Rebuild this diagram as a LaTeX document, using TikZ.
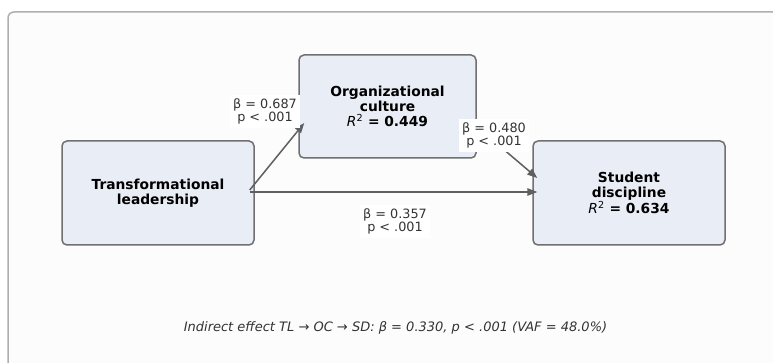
\documentclass[tikz,border=0pt]{standalone}
\usepackage{fontspec}
\setmainfont{DejaVu Sans}
\usetikzlibrary{arrows.meta}
\definecolor{boxfill}{RGB}{233,237,245}
\definecolor{boxdraw}{RGB}{112,112,112}
\definecolor{arrowc}{RGB}{95,95,95}
\definecolor{labtext}{RGB}{51,51,51}
\definecolor{framec}{RGB}{175,175,175}
\definecolor{bgc}{RGB}{252,252,252}
\newcommand{\rtwo}{{\mdseries\itshape R}\textsuperscript{\mdseries 2}}
\begin{document}
\begin{tikzpicture}[x=1pt,y=-1pt,
  varbox/.style={draw=boxdraw, line width=1.5pt, fill=boxfill, rounded corners=5pt,
    minimum width=192pt, minimum height=104pt, align=center,
    font=\fontsize{13.8}{15}\selectfont\bfseries, text=black, inner sep=0pt},
  coef/.style={fill=white, align=center, font=\fontsize{12.8}{13.8}\selectfont,
    text=labtext, inner sep=3pt},
  arr/.style={draw=arrowc, line width=1.5pt, -{Triangle[length=10pt,width=7.5pt]}}]
\useasboundingbox (0,0) rectangle (773,363);
\clip (0,0) rectangle (773,363);
\fill[white] (0,0) rectangle (773,363);
\draw[framec, fill=bgc, line width=1.5pt, rounded corners=6pt] (8,12) rectangle (800,400);

\node[varbox] (tl) at (158,193) {Transformational\\leadership};
\node[varbox, minimum width=177pt, minimum height=103pt] (oc) at (387.5,106.5) {Organizational\\culture\\\rtwo{} = 0.449};
\node[varbox] (sd) at (629,193) {Student\\discipline\\\rtwo{} = 0.634};

\draw[arr] ([xshift=-5pt,yshift=3pt]tl.east) -- ([xshift=6pt,yshift=-16.5pt]oc.west);
\draw[arr] ([xshift=-5pt,yshift=1pt]tl.east) -- ([xshift=5pt,yshift=1pt]sd.west);
\draw[arr] ([yshift=-20pt]oc.east) -- ([xshift=5pt,yshift=15pt]sd.west);

\node[coef] (l1) at (265,111.5) {β = 0.687\\p < .001};
\node[coef] (l2) at (494,135.5) {β = 0.480\\p < .001};
\node[coef] (l3) at (395,221.5) {β = 0.357\\p < .001};

\node[font=\fontsize{13}{15}\selectfont\itshape, text=labtext] (note) at (395.5,328)
  {Indirect effect TL → OC → SD: β = 0.330, p < .001 (VAF = 48.0\%)};
\end{tikzpicture}
\end{document}
